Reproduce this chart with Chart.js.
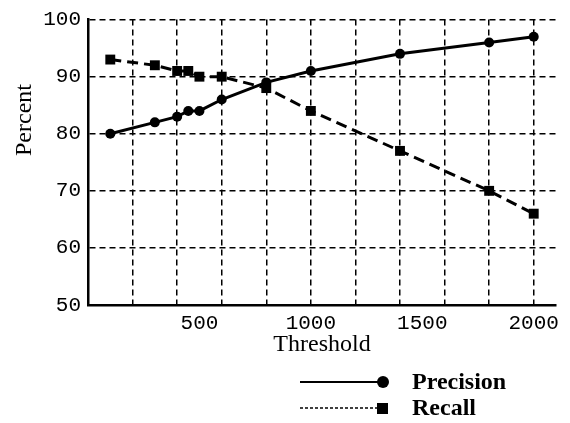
<!DOCTYPE html>
<html>
<head>
<meta charset="utf-8">
<script src="https://cdn.jsdelivr.net/npm/chart.js@4"></script>
<style>
  html, body { margin: 0; padding: 0; background: #fff; }
  #wrap { width: 570px; height: 423px; }
</style>
</head>
<body>
<div id="wrap"><canvas id="chart" width="570" height="423"></canvas></div>
<script>
const thresholds = [100, 300, 400, 450, 500, 600, 800, 1000, 1400, 1800, 2000];
const precision = [80, 82, 83, 84, 84, 86, 89, 91, 94, 96, 97];
const recall = [93, 92, 91, 91, 90, 90, 88, 84, 77, 70, 66];
const seriesNames = ['Precision', 'Recall'];
const xTitle = 'Threshold';
const yTitle = 'Percent';

const toPoints = (ys) => thresholds.map((x, i) => ({ x: x, y: ys[i] }));

// draws the y title off-centre and the line+marker legend under the plot
const extras = {
  id: 'extras',
  afterDraw(chart) {
    const ctx = chart.ctx;
    ctx.save();
    ctx.fillStyle = '#000';
    ctx.font = '24px "Liberation Serif"';
    ctx.translate(25, 120);
    ctx.rotate(-Math.PI / 2);
    ctx.textAlign = 'center';
    ctx.textBaseline = 'middle';
    ctx.fillText(yTitle, 0, 0);
    ctx.restore();

    ctx.save();
    ctx.strokeStyle = '#000';
    ctx.fillStyle = '#000';
    // precision sample
    ctx.lineWidth = 2;
    ctx.beginPath();
    ctx.moveTo(300, 382);
    ctx.lineTo(382, 382);
    ctx.stroke();
    ctx.beginPath();
    ctx.arc(383, 382, 6, 0, Math.PI * 2);
    ctx.fill();
    // recall sample
    ctx.lineWidth = 1.5;
    ctx.setLineDash([3, 2]);
    ctx.beginPath();
    ctx.moveTo(300, 408);
    ctx.lineTo(378, 408);
    ctx.stroke();
    ctx.setLineDash([]);
    ctx.fillRect(377, 403, 11, 11);

    ctx.font = 'bold 24px "Liberation Serif"';
    ctx.textAlign = 'left';
    ctx.textBaseline = 'middle';
    ctx.fillText(seriesNames[0], 412, 383);
    ctx.fillText(seriesNames[1], 412, 409);
    ctx.restore();
  }
};

new Chart(document.getElementById('chart').getContext('2d'), {
  type: 'line',
  data: {
    datasets: [
      {
        label: seriesNames[0],
        data: toPoints(precision),
        borderColor: '#000',
        backgroundColor: '#000',
        borderWidth: 3,
        pointStyle: 'circle',
        pointRadius: 5,
        pointBorderWidth: 0,
        tension: 0
      },
      {
        label: seriesNames[1],
        data: toPoints(recall),
        borderColor: '#000',
        backgroundColor: '#000',
        borderWidth: 3,
        borderDash: [11, 6],
        pointStyle: 'rect',
        pointRadius: 7,
        pointBorderWidth: 0,
        tension: 0
      }
    ]
  },
  options: {
    responsive: false,
    animation: false,
    clip: false,
    layout: { padding: { top: 17, right: 14, bottom: 64, left: 0 } },
    plugins: {
      legend: { display: false },
      tooltip: { enabled: false }
    },
    scales: {
      x: {
        type: 'linear',
        min: 0,
        max: 2100,
        afterFit: (s) => { s.height = 54; },
        ticks: {
          stepSize: 100,
          autoSkip: false,
          maxRotation: 0,
          padding: 6,
          color: '#000',
          font: { family: '"Liberation Mono"', size: 21 },
          callback: (v) => (v > 0 && v % 500 === 0 ? String(v) : '')
        },
        grid: {
          drawTicks: false,
          lineWidth: 1.5,
          color: (c) => (c.tick && c.tick.value > 0 && c.tick.value <= 2000 && c.tick.value % 200 === 0 ? '#000' : 'rgba(0,0,0,0)')
        },
        border: { display: true, color: '#000', width: 2.5, dash: [6, 4] },
        title: {
          display: true,
          text: xTitle,
          color: '#000',
          padding: { top: 0, bottom: 0 },
          font: { family: '"Liberation Serif"', size: 24 }
        }
      },
      y: {
        min: 50,
        max: 100,
        afterFit: (s) => { s.width = 88; },
        ticks: {
          stepSize: 10,
          padding: 7,
          color: '#000',
          font: { family: '"Liberation Mono"', size: 21 }
        },
        grid: {
          drawTicks: false,
          lineWidth: 1.5,
          color: (c) => (c.tick && c.tick.value > 50 ? '#000' : 'rgba(0,0,0,0)')
        },
        border: { display: true, color: '#000', width: 2.5, dash: [6, 4] }
      }
    }
  },
  plugins: [extras]
});
</script>
</body>
</html>
